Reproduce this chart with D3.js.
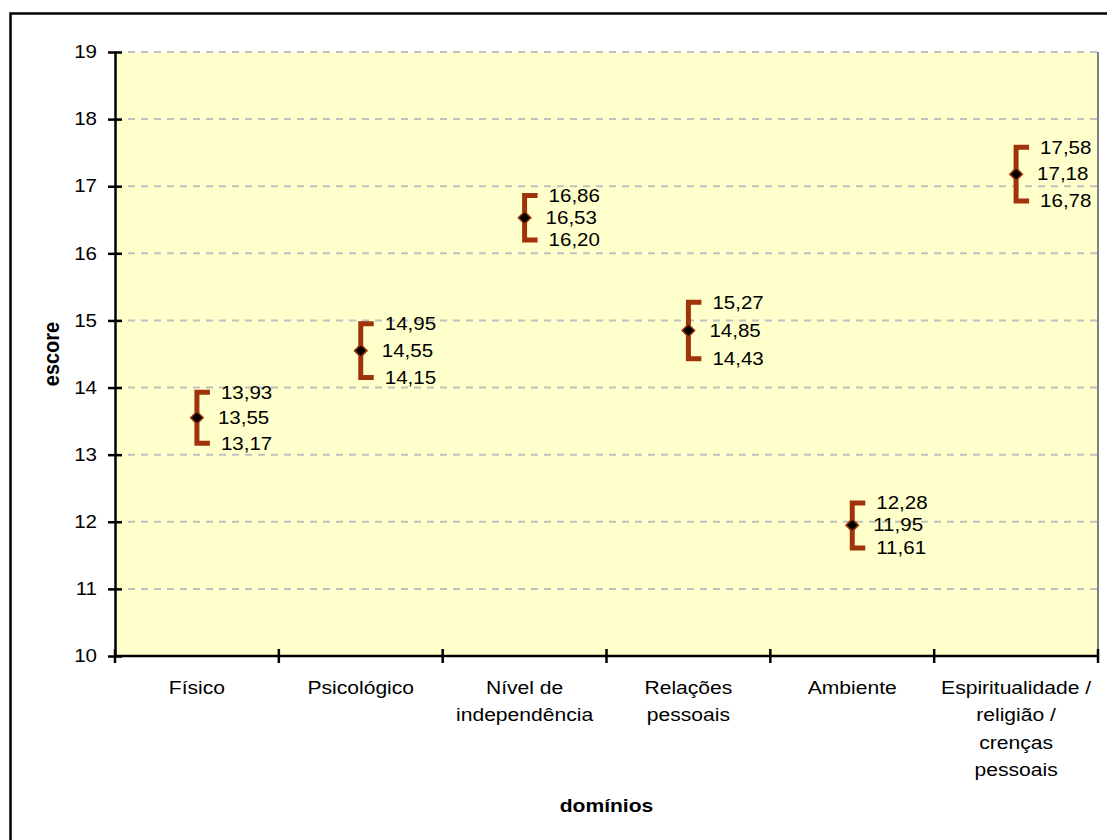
<!DOCTYPE html>
<html>
<head>
<meta charset="utf-8">
<script src="https://cdn.jsdelivr.net/npm/d3@7"></script>
<style>
  html, body { margin: 0; padding: 0; background: #fff; }
  svg { display: block; font-family: "Liberation Sans", Arial, sans-serif; }
</style>
</head>
<body>
<svg id="chart" width="1107" height="840"></svg>
<script>
// Domain scores: mean with lower/upper confidence limits
const categories = [
  ["Físico"],
  ["Psicológico"],
  ["Nível de", "independência"],
  ["Relações", "pessoais"],
  ["Ambiente"],
  ["Espiritualidade /", "religião /", "crenças", "pessoais"]
];
const upper = [13.93, 14.95, 16.86, 15.27, 12.28, 17.58];
const mean  = [13.55, 14.55, 16.53, 14.85, 11.95, 17.18];
const lower = [13.17, 14.15, 16.20, 14.43, 11.61, 16.78];
const yTicks = [10, 11, 12, 13, 14, 15, 16, 17, 18, 19];

const fmt = v => v.toFixed(2).replace(".", ",");
const SX = 1.14; // horizontal widening of the text glyphs

// widen a text element horizontally around its anchor point
function widen(sel, ax, ay) {
  sel.attr("transform", `translate(${ax},${ay}) scale(${SX},1) translate(${-ax},${-ay})`);
}

const svg = d3.select("#chart");
const margin = { left: 115, top: 52, right: 1098, bottom: 656 };

// outer frame
svg.append("rect")
  .attr("x", 10.5).attr("y", 13.5)
  .attr("width", 1120).attr("height", 860)
  .attr("fill", "#fff").attr("stroke", "#000").attr("stroke-width", 2.5);

const idx = d3.range(categories.length);
const x = d3.scaleBand().domain(idx).range([margin.left, margin.right]).padding(0);
const y = d3.scaleLinear().domain([10, 19]).range([margin.bottom, margin.top]);

// plot area
svg.append("rect")
  .attr("x", margin.left).attr("y", margin.top)
  .attr("width", margin.right - margin.left).attr("height", margin.bottom - margin.top)
  .attr("fill", "#FFFFCC");

// horizontal gridlines
svg.append("g").selectAll("line")
  .data(yTicks.filter(t => t > 10))
  .join("line")
  .attr("x1", margin.left).attr("x2", margin.right)
  .attr("y1", d => y(d)).attr("y2", d => y(d))
  .attr("stroke", "#c0c0c0").attr("stroke-width", 2)
  .attr("stroke-dasharray", "7,6");

// right edge of plot area
svg.append("line")
  .attr("x1", margin.right).attr("x2", margin.right)
  .attr("y1", margin.top).attr("y2", margin.bottom)
  .attr("stroke", "#808080").attr("stroke-width", 2);

// y axis
const yAxis = svg.append("g")
  .attr("transform", `translate(${margin.left},0)`)
  .call(d3.axisLeft(y).tickValues(yTicks).tickSize(0).tickPadding(18).tickFormat(d3.format("d")));
yAxis.select(".domain").attr("stroke", "#000").attr("stroke-width", 2.5);
yAxis.selectAll(".tick line").attr("x1", -7).attr("x2", 7).attr("stroke", "#000").attr("stroke-width", 2.5);
yAxis.selectAll(".tick text")
  .attr("font-size", 18).attr("fill", "#000")
  .attr("font-family", "Liberation Sans, Arial, sans-serif")
  .each(function () {
    widen(d3.select(this), -18, 0);
  });

// x axis with boundary ticks
const xAxisG = svg.append("g");
xAxisG.append("line")
  .attr("x1", margin.left).attr("x2", margin.right)
  .attr("y1", margin.bottom).attr("y2", margin.bottom)
  .attr("stroke", "#000").attr("stroke-width", 2.5);
const bounds = idx.map(i => x(i)).concat([x(idx[idx.length - 1]) + x.bandwidth()]);
xAxisG.selectAll(".bt").data(bounds).join("line")
  .attr("x1", d => d).attr("x2", d => d)
  .attr("y1", margin.bottom - 7).attr("y2", margin.bottom + 7)
  .attr("stroke", "#000").attr("stroke-width", 2.5);

// category labels
const catG = svg.append("g");
idx.forEach(i => {
  const cx = x(i) + x.bandwidth() / 2;
  const t = catG.append("text")
    .attr("x", cx)
    .attr("y", 694)
    .attr("text-anchor", "middle")
    .attr("font-size", 18.5)
    .attr("fill", "#000");
  categories[i].forEach((line, k) => {
    t.append("tspan").attr("x", cx).attr("dy", k === 0 ? 0 : 27.5).text(line);
  });
  widen(t, cx, 694);
});

// axis titles
const xt = svg.append("text")
  .attr("x", (margin.left + margin.right) / 2).attr("y", 812)
  .attr("text-anchor", "middle").attr("font-size", 18.5).attr("font-weight", "bold")
  .text("domínios");
widen(xt, (margin.left + margin.right) / 2, 812);
svg.append("text")
  .attr("transform", `translate(59,${(margin.top + margin.bottom) / 2}) rotate(-90) scale(1,${SX})`)
  .attr("text-anchor", "middle").attr("font-size", 20).attr("font-weight", "bold")
  .text("escore");

// confidence brackets
const brown = "#A0330A";
const cap = 13;
const marks = svg.append("g");
idx.forEach(i => {
  const cx = x(i) + x.bandwidth() / 2;
  marks.append("path")
    .attr("d", `M${cx + cap},${y(upper[i])} H${cx} V${y(lower[i])} H${cx + cap}`)
    .attr("fill", "none").attr("stroke", brown).attr("stroke-width", 5)
    .attr("stroke-linejoin", "miter");
  marks.append("path")
    .attr("d", d3.symbol(d3.symbolDiamond2, 100)())
    .attr("transform", `translate(${cx},${y(mean[i])})`)
    .attr("fill", "#000").attr("stroke", brown).attr("stroke-width", 1.5);
});

// value labels
const lab = svg.append("g").attr("font-size", 18).attr("fill", "#000");
idx.forEach(i => {
  const cx = x(i) + x.bandwidth() / 2;
  [[upper[i], 24], [mean[i], 21], [lower[i], 24]].forEach(([v, dx]) => {
    const t = lab.append("text")
      .attr("x", cx + dx).attr("y", y(v))
      .attr("dy", "0.35em")
      .text(fmt(v));
    widen(t, cx + dx, y(v));
  });
});
</script>
</body>
</html>
